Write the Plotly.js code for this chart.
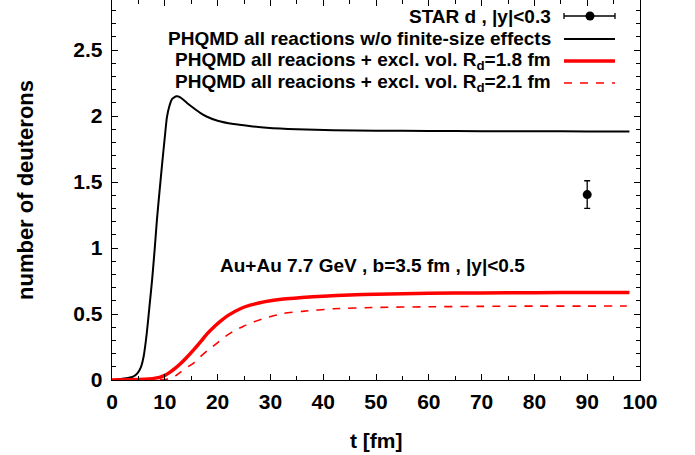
<!DOCTYPE html>
<html><head><meta charset="utf-8">
<script src="https://cdn.plot.ly/plotly-3.0.1.min.js"></script>
<style>body{margin:0;background:#fff}#chart{width:695px;height:455px}</style>
</head><body><div id="chart"></div>
<script>
// black: all reactions w/o finite-size effects
const tBlack = [0,2,3,4,4.8,5.5,6,6.6,7.1,7.6,8.1,8.5,9,9.5,10,10.4,10.9,11.4,12.2,13,14.2,15.5,16.7,18,20,23,26,29.3,35,42,50,60,70,80,90,98];
const vBlack = [0,0.01,0.015,0.025,0.05,0.10,0.18,0.36,0.56,0.76,1.0,1.21,1.43,1.64,1.84,1.99,2.08,2.13,2.15,2.14,2.10,2.06,2.025,1.995,1.965,1.94,1.925,1.912,1.90,1.893,1.89,1.888,1.886,1.885,1.884,1.883];
// red solid: excl. vol. Rd=1.8 fm
const tRed18 = [0,5,7,9,10,11,12,13,14,15.5,17,18,19.5,20.5,22,24.3,26,28,30,33,36,40,45,50,60,70,80,90,98];
const vRed18 = [0,0.003,0.008,0.02,0.035,0.06,0.09,0.125,0.165,0.23,0.30,0.35,0.41,0.445,0.49,0.54,0.565,0.585,0.60,0.615,0.625,0.635,0.645,0.65,0.657,0.66,0.662,0.663,0.664];
// red dashed: excl. vol. Rd=2.1 fm
const tRed21 = [0,5,9,10,11,12,13,14,15.5,16.7,18,19.9,21.5,23,25,26.8,29,32.5,36,42,50,60,70,80,90,97.5];
const vRed21 = [0,0,0.002,0.004,0.01,0.03,0.06,0.09,0.13,0.175,0.22,0.28,0.33,0.37,0.41,0.44,0.47,0.505,0.52,0.54,0.55,0.555,0.558,0.56,0.56,0.561];
// STAR data point
const tStar = [90];
const vStar = [1.405];
const eStar = [0.105];

const legendLabels = [
  'STAR d , |y|<0.3',
  'PHQMD all reactions w/o finite-size effects',
  'PHQMD all reacions + excl. vol. R<sub>d</sub>=1.8 fm',
  'PHQMD all reacions + excl. vol. R<sub>d</sub>=2.1 fm'
];
const infoText = 'Au+Au 7.7 GeV , b=3.5 fm , |y|<0.5';
const xTitle = 't [fm]';
const yTitle = 'number of deuterons';

const FF = 'Liberation Sans, Arial, Helvetica, sans-serif';

const traces = [
  {x:tBlack, y:vBlack, mode:'lines', line:{color:'#000', width:2, shape:'spline', smoothing:0.5}, showlegend:false},
  {x:tRed18, y:vRed18, mode:'lines', line:{color:'#ff0000', width:3.5, shape:'spline', smoothing:0.5}, showlegend:false},
  {x:tRed21, y:vRed21, mode:'lines', line:{color:'#ff0000', width:1.6, dash:'8px,8px', shape:'spline', smoothing:0.5}, showlegend:false},
  {x:tStar, y:vStar, mode:'markers', marker:{color:'#000', size:9},
   error_y:{type:'data', array:eStar, visible:true, color:'#000', thickness:1.3, width:3}, showlegend:false}
];

const plotL = 112, plotR = 640, plotT = 0, plotB = 380;
const px = x => (x - plotL)/(plotR - plotL);
const py = y => (plotB - y)/(plotB - plotT);
const rowsY = [16, 39, 61, 83];
const annotations = legendLabels.map((t,i) => ({
  xref:'paper', yref:'paper', x:px(553), y:py(rowsY[i]), xanchor:'right', yanchor:'middle',
  text:t, showarrow:false, font:{family:FF, size:19, color:'#000', weight:'bold'}
}));
annotations.push({xref:'paper', yref:'paper', x:px(372), y:py(265), xanchor:'center', yanchor:'middle',
  text:infoText, showarrow:false, font:{family:FF, size:19, color:'#000', weight:'bold'}});
annotations.push({xref:'paper', yref:'paper', x:px(376), y:py(440), xanchor:'center', yanchor:'middle',
  text:xTitle, showarrow:false, font:{family:FF, size:21, color:'#000', weight:'bold'}});
annotations.push({xref:'paper', yref:'paper', x:px(25), y:py(190), xanchor:'center', yanchor:'middle', textangle:-90,
  text:yTitle, showarrow:false, font:{family:FF, size:22, color:'#000', weight:'bold'}});

const shapes = [
  {type:'line', xref:'paper', yref:'paper', x0:px(564), x1:px(615), y0:py(rowsY[0]), y1:py(rowsY[0]), line:{color:'#000', width:1.3}},
  {type:'line', xref:'paper', yref:'paper', x0:px(564), x1:px(564), y0:py(rowsY[0]-3), y1:py(rowsY[0]+3), line:{color:'#000', width:1.3}},
  {type:'line', xref:'paper', yref:'paper', x0:px(615), x1:px(615), y0:py(rowsY[0]-3), y1:py(rowsY[0]+3), line:{color:'#000', width:1.3}},
  {type:'circle', xref:'paper', yref:'paper', x0:px(585.5), x1:px(594.5), y0:py(rowsY[0]-4.5), y1:py(rowsY[0]+4.5), fillcolor:'#000', line:{color:'#000', width:0}},
  {type:'line', xref:'paper', yref:'paper', x0:px(564), x1:px(615), y0:py(rowsY[1]), y1:py(rowsY[1]), line:{color:'#000', width:2}},
  {type:'line', xref:'paper', yref:'paper', x0:px(564), x1:px(615), y0:py(rowsY[2]), y1:py(rowsY[2]), line:{color:'#ff0000', width:3.5}},
  {type:'line', xref:'paper', yref:'paper', x0:px(564), x1:px(615), y0:py(rowsY[3]), y1:py(rowsY[3]), line:{color:'#ff0000', width:1.6, dash:'8px,8px'}}
];

const layout = {
  width:695, height:455,
  margin:{l:plotL, r:695-plotR, t:plotT, b:455-plotB},
  paper_bgcolor:'#fff', plot_bgcolor:'#fff',
  showlegend:false,
  xaxis:{range:[0,100], dtick:10, tick0:0, ticks:'inside', ticklen:6, tickwidth:1, tickcolor:'#000',
    showline:true, linecolor:'#000', linewidth:1.3, mirror:'ticks', showgrid:false, zeroline:false,
    minor:{dtick:5, ticks:'inside', ticklen:4, tickcolor:'#000', showgrid:false},
    ticklabelstandoff:2,
    tickfont:{family:FF, size:21, color:'#000', weight:'bold'}},
  yaxis:{range:[0,2.88], dtick:0.5, tick0:0, ticks:'inside', ticklen:6, tickwidth:1, tickcolor:'#000',
    showline:true, linecolor:'#000', linewidth:1.3, mirror:'ticks', showgrid:false, zeroline:false,
    minor:{dtick:0.1, ticks:'inside', ticklen:4, tickcolor:'#000', showgrid:false},
    ticklabelstandoff:4,
    tickfont:{family:FF, size:21, color:'#000', weight:'bold'}},
  annotations, shapes
};
Plotly.newPlot('chart', traces, layout, {displayModeBar:false, staticPlot:true});
</script></body></html>
